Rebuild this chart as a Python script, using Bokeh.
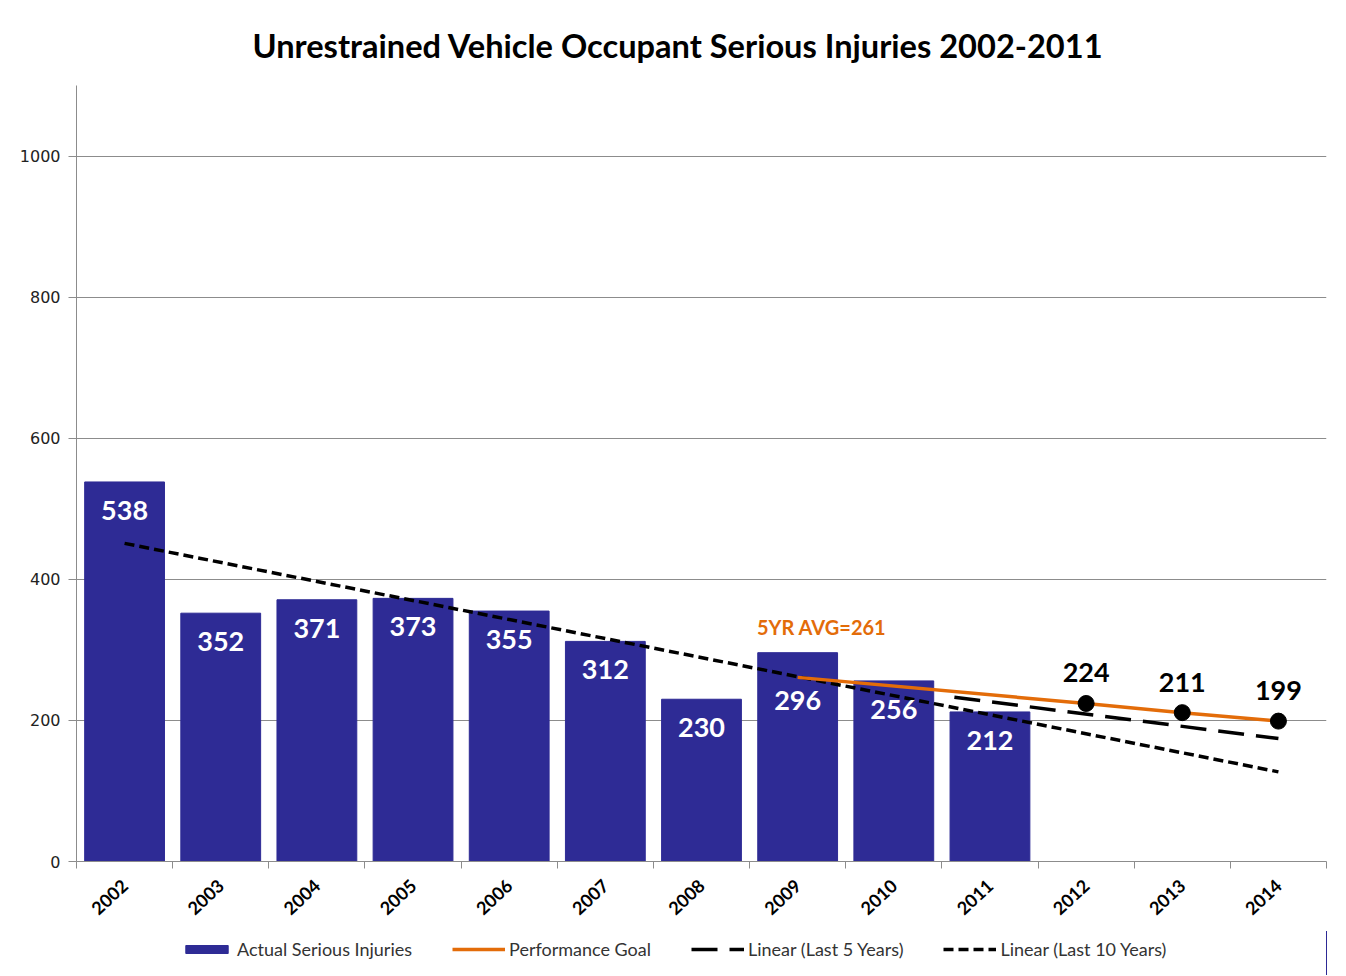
import numpy as np
from bokeh.plotting import figure
from bokeh.layouts import column
from bokeh.models import (ColumnDataSource, FixedTicker, LabelSet, Label, Legend,
                          LegendItem, Range1d)
from bokeh.embed import file_html
from bokeh.resources import INLINE
from bokeh.core.properties import value

# ---- data ----
title_text = "Unrestrained Vehicle Occupant Serious Injuries 2002-2011"
years_actual = [2002, 2003, 2004, 2005, 2006, 2007, 2008, 2009, 2010, 2011]
injuries = [538, 352, 371, 373, 355, 312, 230, 296, 256, 212]
axis_years = [2002, 2003, 2004, 2005, 2006, 2007, 2008, 2009, 2010, 2011, 2012, 2013, 2014]
goal_years = [2009, 2012, 2013, 2014]
goal_values = [261, 224, 211, 199]
marker_years = [2012, 2013, 2014]
marker_values = [224, 211, 199]
y_ticks = [0, 200, 400, 600, 800, 1000]
avg_text = "5YR AVG=261"
legend_labels = ["Actual Serious Injuries", "Performance Goal",
                 "Linear (Last 5 Years)", "Linear (Last 10 Years)"]

# ---- trend lines (least-squares fits of the actual data) ----
c10 = np.polyfit(years_actual, injuries, 1)
t10_x = [years_actual[0], axis_years[-1]]
t10_y = [float(np.polyval(c10, v)) for v in t10_x]
c5 = np.polyfit(years_actual[-5:], injuries[-5:], 1)
t5_x = [years_actual[-1] - 0.37, axis_years[-1]]
t5_y = [float(np.polyval(c5, v)) for v in t5_x]

BAR = "#2E2B95"
ORANGE = "#E36C09"
GRID = "#8c8c8c"
FONT = "Lato"
LOWERED = {2009}   # label pushed further down (as in the original)
Y_MAX = 1100

p = figure(frame_width=1250, frame_height=776,
           x_range=Range1d(axis_years[0] - 0.5, axis_years[-1] + 0.5),
           y_range=Range1d(0, Y_MAX),
           output_backend="svg", toolbar_location=None,
           min_border_left=76, min_border_right=4,
           min_border_top=85, min_border_bottom=70)
p.outline_line_color = None
p.background_fill_color = "white"

p.title.text = title_text
p.title.text_font = FONT
p.title.text_font_style = "bold"
p.title.text_font_size = "32.6px"
p.title.align = "left"
p.title.offset = 176
p.title.standoff = 42
p.title.text_color = "black"

# grids
p.xgrid.visible = False
p.ygrid.ticker = FixedTicker(ticks=y_ticks)
p.ygrid.grid_line_color = GRID
p.ygrid.grid_line_width = 1

# y axis
p.yaxis.ticker = FixedTicker(ticks=y_ticks)
p.yaxis.axis_line_color = GRID
p.yaxis.major_tick_line_color = GRID
p.yaxis.major_tick_out = 8
p.yaxis.major_tick_in = 0
p.yaxis.minor_tick_line_color = None
p.yaxis.major_label_text_font = "DejaVu Sans"
p.yaxis.major_label_text_font_size = "16px"
p.yaxis.major_label_text_color = "#222222"
p.yaxis.major_label_standoff = 8

# x axis
p.xaxis.ticker = FixedTicker(ticks=axis_years,
                             minor_ticks=[v - 0.5 for v in axis_years] + [axis_years[-1] + 0.5])
p.xaxis.major_label_overrides = {v: str(v) for v in axis_years}
p.xaxis.axis_line_color = GRID
p.xaxis.major_tick_line_color = None
p.xaxis.minor_tick_line_color = GRID
p.xaxis.minor_tick_out = 7
p.xaxis.minor_tick_in = 0
p.xaxis.major_label_orientation = 0.75
p.xaxis.major_label_text_font = FONT
p.xaxis.major_label_text_font_style = "bold"
p.xaxis.major_label_text_font_size = "18px"
p.xaxis.major_label_text_color = "black"
p.xaxis.major_label_standoff = 14

# bars
src = ColumnDataSource(dict(x=years_actual, top=injuries, txt=[str(v) for v in injuries],
                            off=[-38 if yr in LOWERED else -19 for yr in years_actual]))
p.vbar(x="x", top="top", width=0.83, source=src, fill_color=BAR, line_color=BAR)
p.add_layout(LabelSet(x="x", y="top", text="txt", source=src, text_align="center",
                      text_baseline="top", y_offset="off", text_color="white",
                      text_font=value(FONT), text_font_style="bold",
                      text_font_size="27px"))

# trend lines
p.line(t10_x, t10_y, line_color="black", line_width=3.5, line_dash="10 5")
p.line(t5_x, t5_y, line_color="black", line_width=3.5, line_dash="26 12")

# goal
p.line(goal_years, goal_values, line_color=ORANGE, line_width=3.5)
p.scatter(marker_years, marker_values, size=16, color="black")
gsrc = ColumnDataSource(dict(x=marker_years, y=marker_values, txt=[str(v) for v in marker_values]))
p.add_layout(LabelSet(x="x", y="y", text="txt", source=gsrc, text_align="center",
                      text_baseline="bottom", y_offset=21, text_color="black",
                      text_font=value(FONT), text_font_style="bold",
                      text_font_size="27px"))

p.add_layout(Label(x=goal_years[0] + 0.25, y=goal_values[0], y_offset=50, text=avg_text,
                   text_align="center", text_baseline="middle", text_color=ORANGE,
                   text_font=FONT, text_font_style="bold", text_font_size="20px"))

# ---- legend strip (separate figure below the chart; its renderers sit outside its view) ----
lg = figure(width=1330, height=44, x_range=Range1d(0, 1), y_range=Range1d(0, 1),
            output_backend="svg", toolbar_location=None, min_border=0)
lg.axis.visible = False
lg.grid.visible = False
lg.outline_line_color = None
r_bar = lg.vbar(x=years_actual, top=injuries, width=0.83, fill_color=BAR, line_color=BAR)
r_goal = lg.line(x=goal_years, y=goal_values, line_color=ORANGE, line_width=3.5)
r_t5 = lg.line(x=t5_x, y=t5_y, line_color="black", line_width=3.5, line_dash="26 12")
r_t10 = lg.line(x=t10_x, y=t10_y, line_color="black", line_width=3.5, line_dash="10 5")
legend = Legend(items=[LegendItem(label=legend_labels[0], renderers=[r_bar]),
                       LegendItem(label=legend_labels[1], renderers=[r_goal]),
                       LegendItem(label=legend_labels[2], renderers=[r_t5]),
                       LegendItem(label=legend_labels[3], renderers=[r_t10])],
                orientation="horizontal", location=(104, 15))
legend.label_text_font = FONT
legend.label_text_font_size = "18px"
legend.label_text_color = "#333333"
legend.glyph_width = 53
legend.glyph_height = 10
legend.label_standoff = 4
legend.spacing = 40
legend.border_line_color = None
legend.background_fill_alpha = 0
legend.padding = 0
legend.margin = 0
lg.add_layout(legend, "center")

open("out.html", "w").write(file_html(column(p, lg, spacing=0), INLINE))
